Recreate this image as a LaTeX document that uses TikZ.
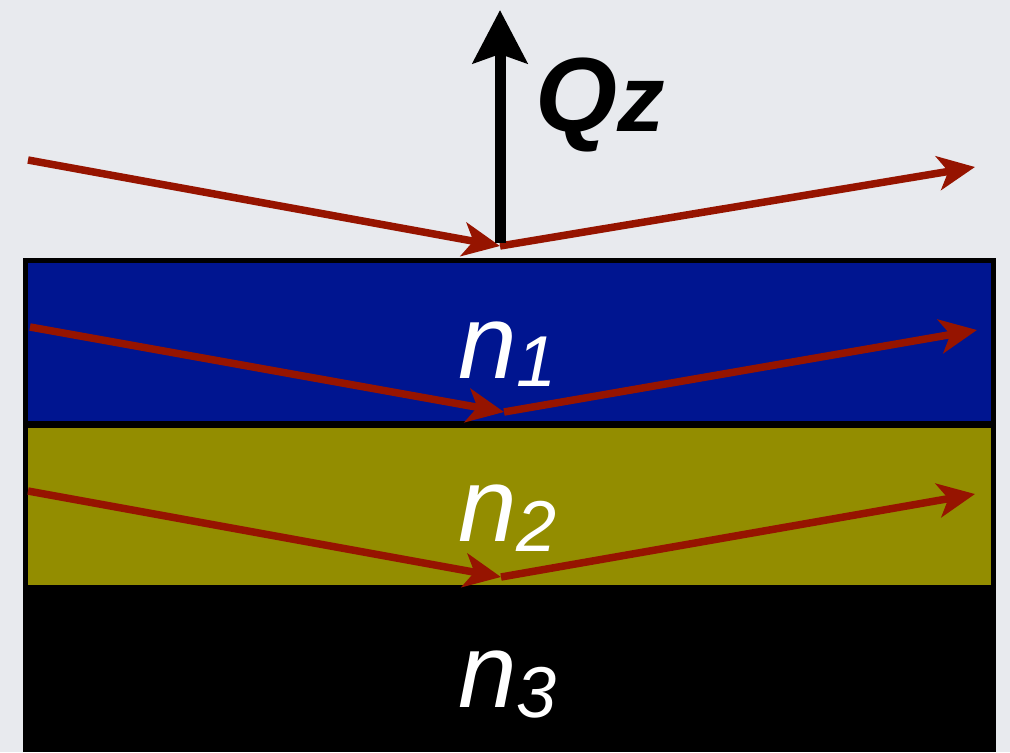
\documentclass[tikz,border=0pt]{standalone}
\usepackage{fontspec}
\setmainfont{Liberation Sans}
\usetikzlibrary{arrows.meta}
\definecolor{bgGray}{HTML}{E8EAEE}
\definecolor{layerBlue}{HTML}{001590}
\definecolor{layerOlive}{HTML}{938D00}
\definecolor{rayRed}{HTML}{961400}
\begin{document}
\begin{tikzpicture}[x=0.02cm,y=-0.02cm,
    ray/.style={draw=rayRed,line width=0.15cm,-{Stealth[length=0.74cm,width=0.68cm,inset=0.2cm]}},
    idx/.style={text=white,inner sep=0pt,anchor=base west,font=\fontsize{60}{60}\selectfont\itshape}]
  % background
  \useasboundingbox (0,0) rectangle (1010,752);
  \fill[bgGray] (0,0) rectangle (1010,752);
  % layers (black frame, substrate n3)
  \fill[black] (23,258) rectangle (996,752);
  \fill[layerBlue] (28,263) rectangle (991,421);
  \fill[layerOlive] (28,428) rectangle (991,585);
  % points of the rays
  \coordinate (in0) at (28,160);
  \coordinate (hit0) at (500,246);
  \coordinate (out0) at (975,167);
  \coordinate (in1) at (30,327);
  \coordinate (hit1) at (504,412);
  \coordinate (out1) at (977,330);
  \coordinate (in2) at (28,491);
  \coordinate (hit2) at (501,577);
  \coordinate (out2) at (975,494);
  % reflected rays
  \draw[ray] (in0) -- (hit0);
  \draw[ray] (hit0) -- (out0);
  \draw[ray] (in1) -- (hit1);
  \draw[ray] (hit1) -- (out1);
  \draw[ray] (in2) -- (hit2);
  \draw[ray] (hit2) -- (out2);
  % momentum transfer
  \coordinate (qbase) at (500,243);
  \coordinate (qtop) at (500,10);
  \draw[line width=0.22cm,-{Stealth[length=1.06cm,width=1.08cm,inset=0.18cm]}] (qbase) -- (qtop);
  \node[inner sep=0pt,anchor=base west,font=\fontsize{60}{60}\selectfont\bfseries\itshape] (qz) at (535,131)
    {Q{\fontsize{54}{54}\selectfont z}};
  % refractive indices
  \node[idx] (n1) at (458,378) {n{\fontsize{41}{41}\selectfont\raisebox{-0.16cm}{1}}};
  \node[idx] (n2) at (458,541) {n{\fontsize{41}{41}\selectfont\raisebox{-0.2cm}{2}}};
  \node[idx] (n3) at (458,707) {n{\fontsize{41}{41}\selectfont\raisebox{-0.2cm}{3}}};
\end{tikzpicture}
\end{document}
